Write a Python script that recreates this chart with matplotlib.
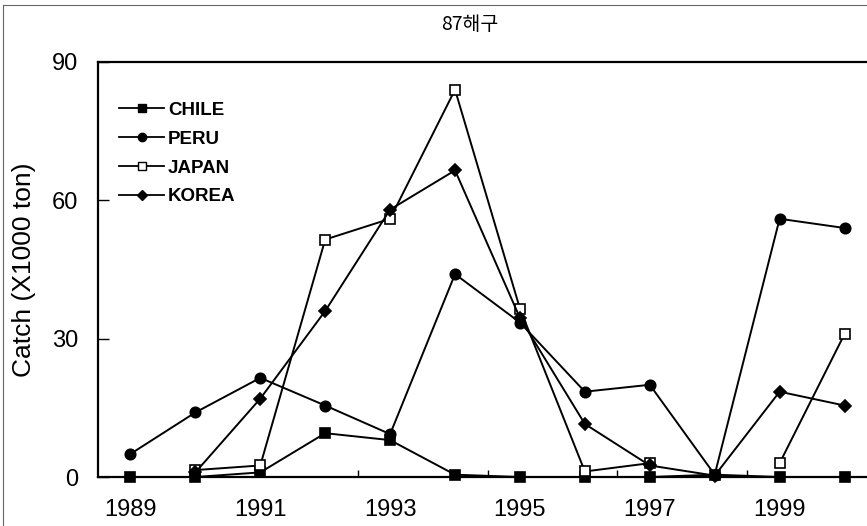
import numpy as np
import matplotlib
matplotlib.use('Agg')
import matplotlib.pyplot as plt
from matplotlib.lines import Line2D

plt.rcParams['font.family'] = ['Liberation Sans', 'DejaVu Sans']

years = [1989, 1990, 1991, 1992, 1993, 1994, 1995, 1996, 1997, 1998, 1999, 2000]
chile = [0, 0, 1, 9.5, 8, 0.5, 0, 0, 0, 0.5, 0, 0]
peru = [5, 14, 21.5, 15.5, 9.3, 44, 33.5, 18.5, 20, 0.5, 56, 54]
japan = [np.nan, 1.5, 2.5, 51.5, 56, 84, 36.5, 1.2, 3, np.nan, 3, 31]
korea = [np.nan, 1, 17, 36, 58, 66.5, 34.5, 11.5, 2.5, 0.3, 18.5, 15.5]

series = [
    ('CHILE', chile, 's', 'black', 7.5),
    ('PERU', peru, 'o', 'black', 7.5),
    ('JAPAN', japan, 's', 'white', 7.5),
    ('KOREA', korea, 'D', 'black', 6),
]

fig = plt.figure(figsize=(8.67, 5.26), dpi=100)
ax = fig.add_axes([98 / 867, 1 - 477 / 526, (877 - 98) / 867, (477 - 62) / 526])

for name, vals, mk, fc, ms in series:
    ax.plot(years, vals, color='black', lw=1.4, marker=mk, markersize=ms,
            markerfacecolor=fc, markeredgecolor='black', markeredgewidth=1.2,
            label=name, clip_on=False, zorder=3)

ax.set_xlim(1988.5, 2000.5)
ax.set_ylim(0, 90)
ax.set_yticks([0, 30, 60, 90])
ax.set_xticks([1989, 1991, 1993, 1995, 1997, 1999])
ax.set_xticks([1992.5, 1994.5, 1996.5, 1998.5], minor=True)
ax.tick_params(axis='x', which='major', length=0, labelsize=17, pad=16)
ax.tick_params(axis='x', which='minor', direction='in', length=5, width=1)
ax.tick_params(axis='y', direction='in', length=8, width=1, labelsize=17, pad=14)
for s in ['left', 'bottom', 'top']:
    ax.spines[s].set_linewidth(1.6)
ax.spines['right'].set_visible(False)

ax.set_ylabel('Catch (X1000 ton)', fontsize=19, labelpad=12)
fig.text(470 / 867, 1 - 25 / 526, '87해구', ha='center', va='center',
         fontsize=14, family=['Noto Sans CJK KR', 'DejaVu Sans'])

handles = []
for name, vals, mk, fc, ms in series:
    handles.append(Line2D([], [], color='black', lw=1.3, marker=mk, markersize=ms * 0.8,
                          markerfacecolor=fc, markeredgecolor='black'))
leg = ax.legend(handles, [s[0] for s in series], loc='upper left',
                bbox_to_anchor=(0.008, 0.94), frameon=False, fontsize=13.5,
                handlelength=2.4, handletextpad=0.2, labelspacing=0.62,
                borderpad=0.3)
for t in leg.get_texts():
    t.set_fontweight('bold')

# thin outer frame of the scanned figure
fig.add_artist(Line2D([0.004, 1.0], [0.99, 0.99], color='0.4', lw=0.8))
fig.add_artist(Line2D([0.004, 0.004], [0.0, 0.99], color='0.4', lw=0.8))

fig.savefig('out.png', dpi=100)
